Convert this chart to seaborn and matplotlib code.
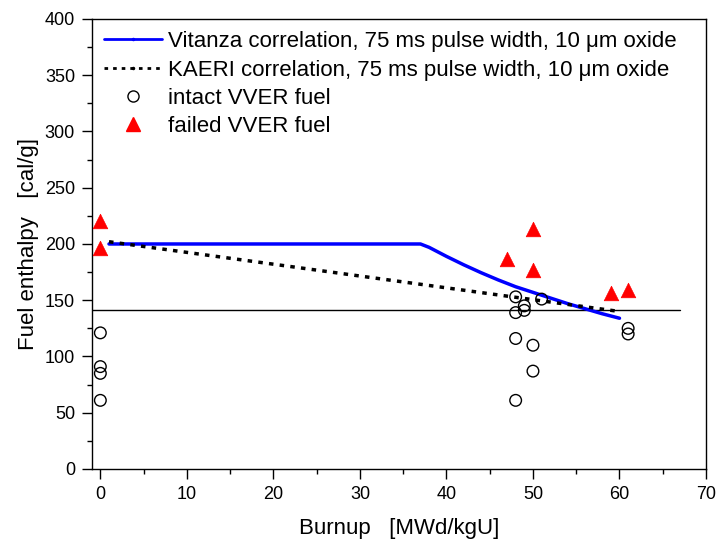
import numpy as np
import pandas as pd
import matplotlib
matplotlib.use("Agg")
import matplotlib.pyplot as plt
from matplotlib.lines import Line2D
from matplotlib.ticker import MultipleLocator
import seaborn as sns

# correlation curves
vit_burnup = [1, 37, 38, 40, 42, 44, 46, 48, 50, 52, 54, 56, 58, 60]
vit_enthalpy = [200, 200, 197, 189, 181.5, 174.5, 168, 162, 157, 152, 147, 142.5, 138, 134]
kaeri_burnup = [1, 60]
kaeri_enthalpy = [202, 140]

# test data
intact_burnup = [0, 0, 0, 0, 48, 49, 49, 48, 51, 48, 50, 50, 48, 61, 61]
intact_enthalpy = [121, 91, 85, 61, 153, 145, 141, 139, 151, 116, 110, 87, 61, 125, 120]
failed_burnup = [0, 0, 47, 50, 50, 59, 61]
failed_enthalpy = [220, 196, 187, 213, 177, 156, 159]

limit_x = [-1, 67]
limit_y = [141, 141]

sns.set_style("ticks")
plt.rcParams['font.family'] = ['Liberation Sans', 'DejaVu Sans']
plt.rcParams['font.size'] = 13
for k in ['text.color', 'axes.labelcolor', 'xtick.color', 'ytick.color']:
    plt.rcParams[k] = 'black'

fig = plt.figure(figsize=(7.18, 5.44), dpi=100)
ax = fig.add_axes([0.1277, 0.1379, 0.8556, 0.8272])

vit = pd.DataFrame({'burnup': vit_burnup, 'enthalpy': vit_enthalpy})
kaeri = pd.DataFrame({'burnup': kaeri_burnup, 'enthalpy': kaeri_enthalpy})
intact = pd.DataFrame({'burnup': intact_burnup, 'enthalpy': intact_enthalpy})
failed = pd.DataFrame({'burnup': failed_burnup, 'enthalpy': failed_enthalpy})

ax.plot(limit_x, limit_y, color='black', lw=1)
sns.lineplot(data=vit, x='burnup', y='enthalpy', color='#0000ff', lw=2.5, ax=ax)
sns.lineplot(data=kaeri, x='burnup', y='enthalpy', color='black', lw=2.5,
             linestyle=(0, (1.3, 1.8)), ax=ax)
sns.scatterplot(data=intact, x='burnup', y='enthalpy', marker='o', s=70,
                facecolor='none', edgecolor='black', linewidth=1, ax=ax, zorder=3)
sns.scatterplot(data=failed, x='burnup', y='enthalpy', marker='^', s=110,
                color='#ff0000', edgecolor='#ff0000', linewidth=0.5, ax=ax, zorder=3)

ax.set_xlim(-1, 70)
ax.set_ylim(0, 400)
ax.xaxis.set_major_locator(MultipleLocator(10))
ax.xaxis.set_minor_locator(MultipleLocator(5))
ax.yaxis.set_major_locator(MultipleLocator(50))
ax.yaxis.set_minor_locator(MultipleLocator(25))
ax.tick_params(which='major', direction='out', length=7, width=1, labelsize=13, pad=5)
ax.tick_params(which='minor', direction='out', length=3.8, width=1)
for s in ax.spines.values():
    s.set_linewidth(1)
    s.set_color('black')

ax.set_xlabel('Burnup   [MWd/kgU]', fontsize=16, labelpad=11)
ax.set_ylabel('Fuel enthalpy   [cal/g]', fontsize=16, labelpad=4)

handles = [
    Line2D([], [], color='#0000ff', lw=2, marker='.', markersize=3),
    Line2D([], [], color='black', lw=2, linestyle=(0, (1.3, 1.8)), marker='.', markersize=3),
    Line2D([], [], linestyle='none', marker='o', markersize=8, markerfacecolor='none',
           markeredgecolor='black'),
    Line2D([], [], linestyle='none', marker='^', markersize=10, color='#ff0000'),
]
labels = [
    'Vitanza correlation, 75 ms pulse width, 10 \u03bcm oxide',
    'KAERI correlation, 75 ms pulse width, 10 \u03bcm oxide',
    'intact VVER fuel',
    'failed VVER fuel',
]
ax.legend(handles, labels, loc='upper left', frameon=False, fontsize=16,
          handlelength=2.6, handletextpad=0.3, labelspacing=0.33, numpoints=1,
          borderaxespad=0.35, borderpad=0.2, bbox_to_anchor=(0.0, 1.0))

fig.savefig('out.png', dpi=100)
